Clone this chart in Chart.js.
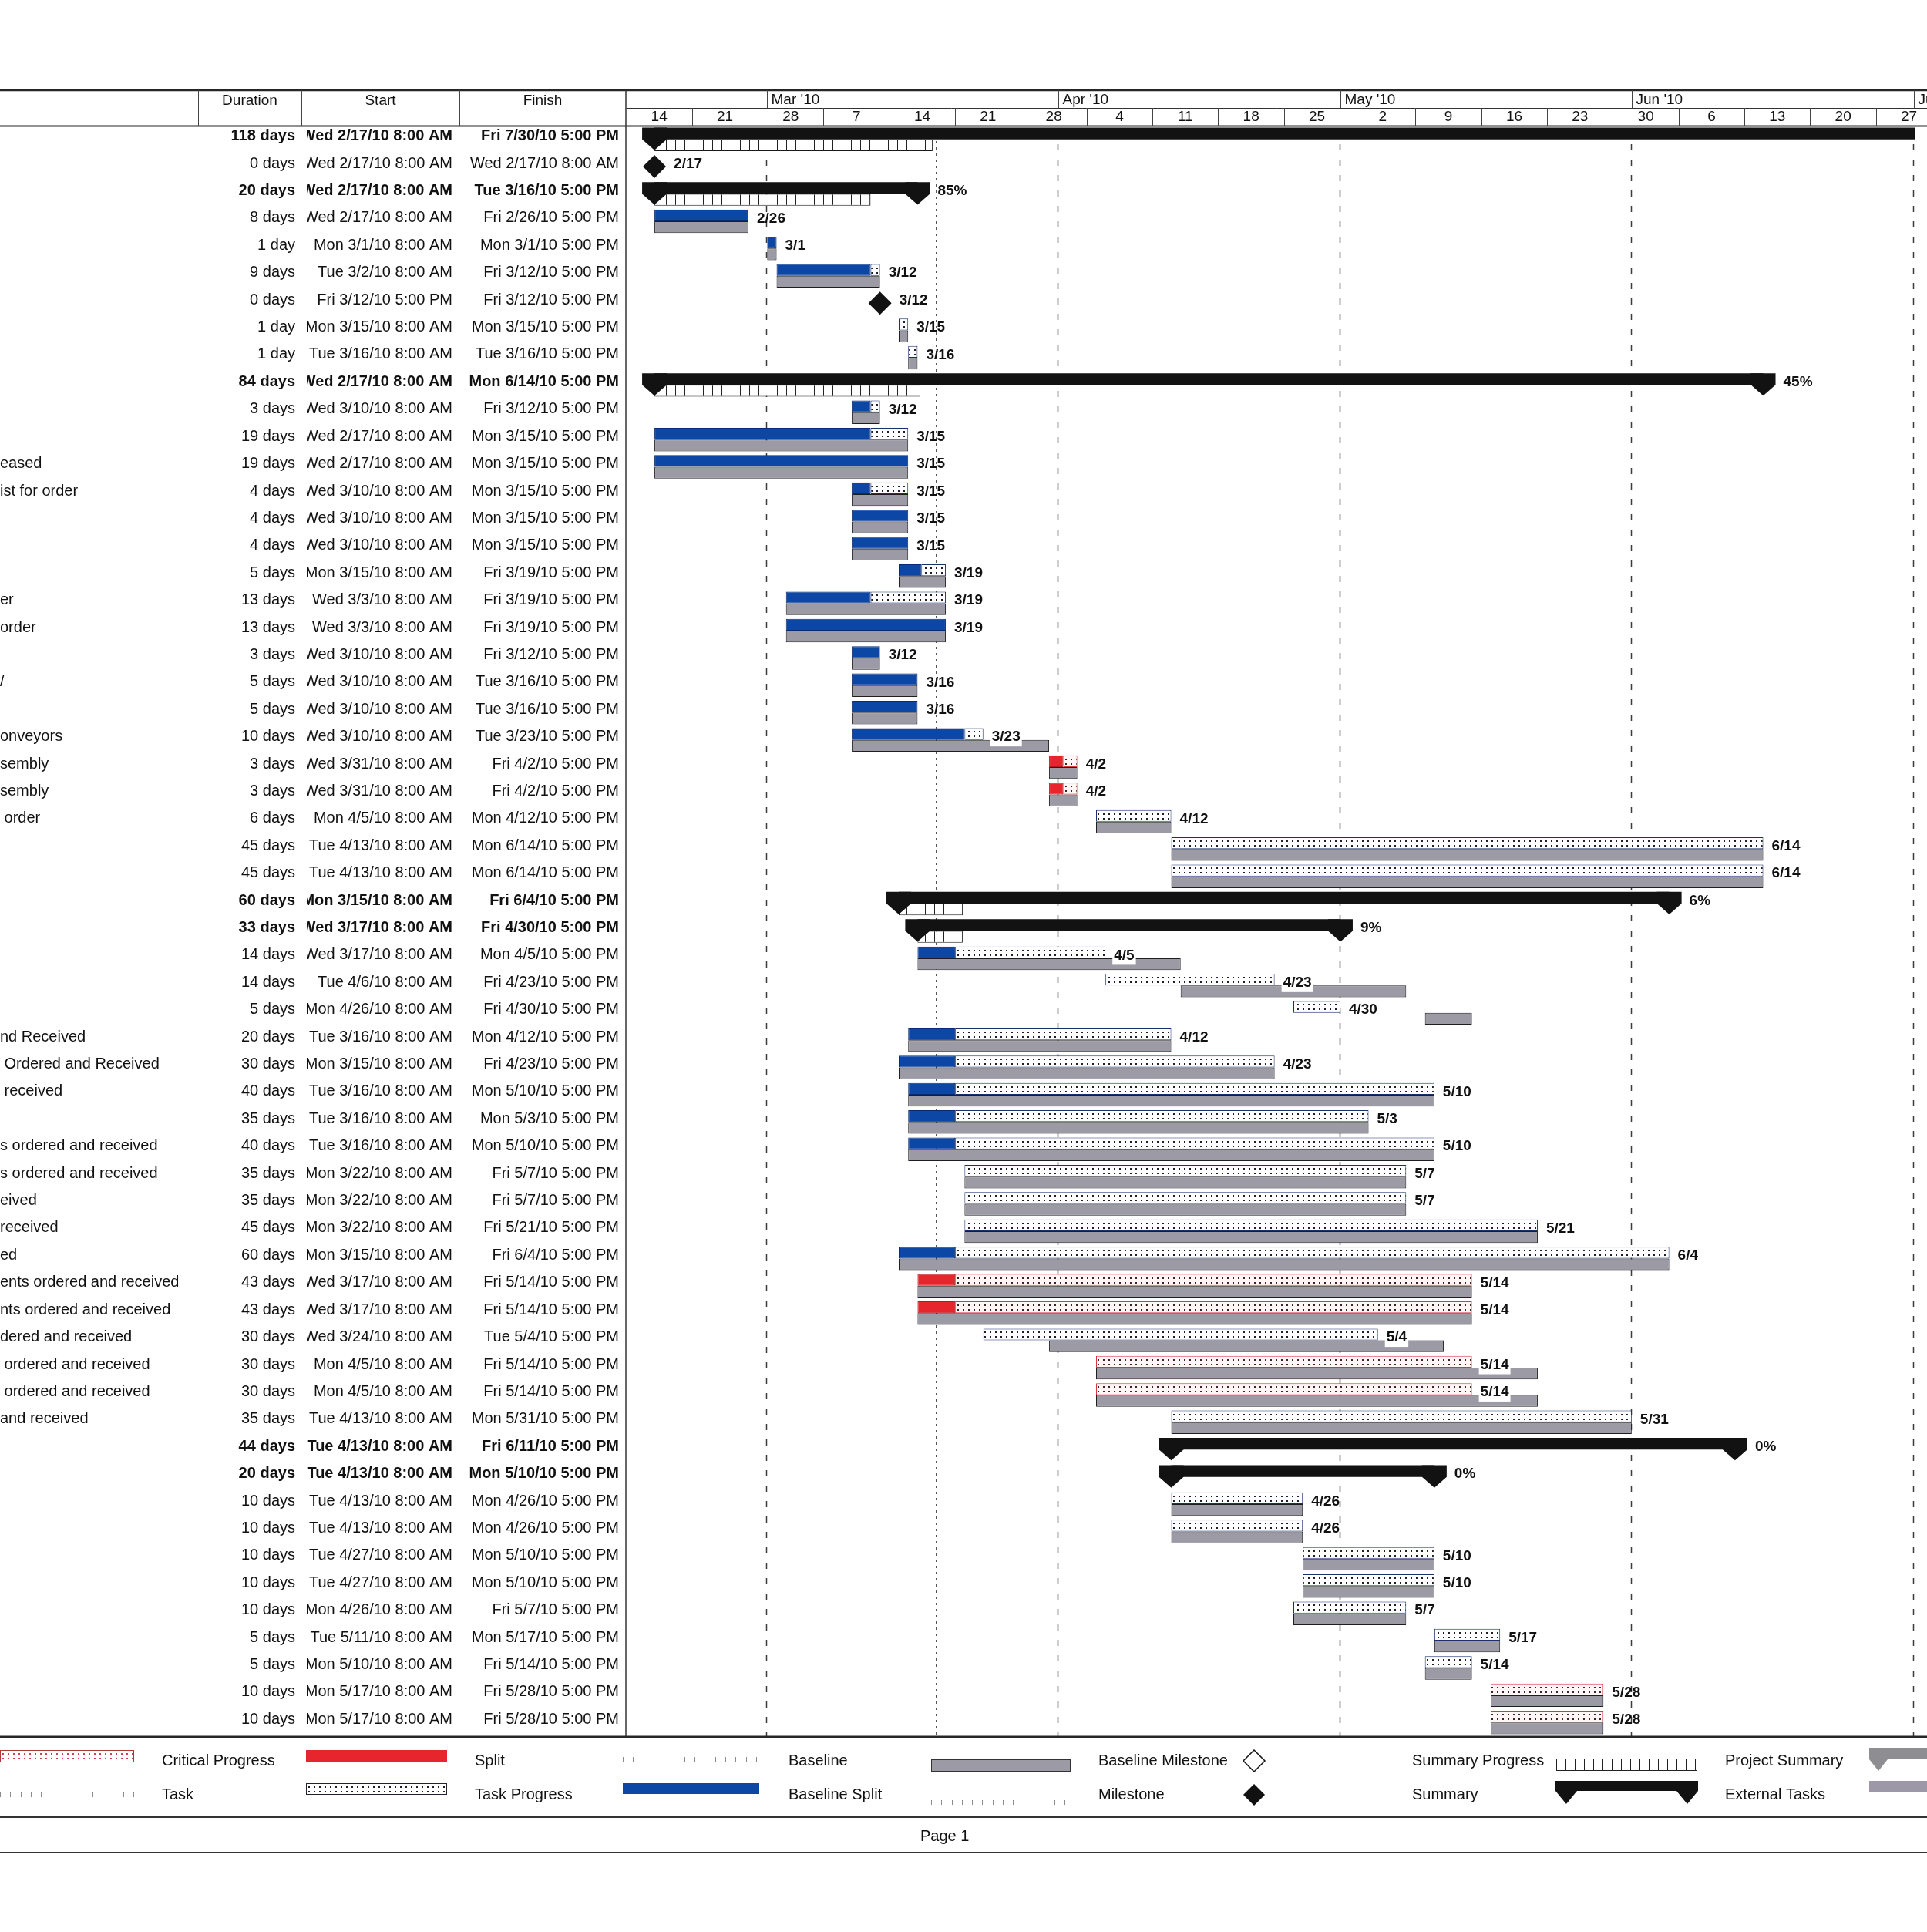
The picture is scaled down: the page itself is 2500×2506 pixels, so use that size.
<!DOCTYPE html>
<html><head><meta charset="utf-8">
<script src="https://cdn.jsdelivr.net/npm/chart.js@4.4.1/dist/chart.umd.min.js"></script>
<style>html,body{margin:0;padding:0;background:#fff;}canvas{display:block;}</style>
</head><body>
<canvas id="c" width="2500" height="2506" style="width:2500px;height:2506px"></canvas>
<script>
// ---------- DATA (time values are days counted from Sun 2/14/2010) ----------
const rowNames = ['','','','','','','','','','',
  '','','eased','ist for order','','','','er','order','',
  '/','','onveyors','sembly','sembly',' order','','','','',
  '','','','nd Received',' Ordered and Received',' received','','s ordered and received','s ordered and received','eived',
  'received','ed','ents ordered and received','nts ordered and received','dered and received',' ordered and received',' ordered and received','and received','','',
  '','','','','','','','',''];
const durations = ['118 days','0 days','20 days','8 days','1 day','9 days','0 days','1 day','1 day','84 days',
  '3 days','19 days','19 days','4 days','4 days','4 days','5 days','13 days','13 days','3 days',
  '5 days','5 days','10 days','3 days','3 days','6 days','45 days','45 days','60 days','33 days',
  '14 days','14 days','5 days','20 days','30 days','40 days','35 days','40 days','35 days','35 days',
  '45 days','60 days','43 days','43 days','30 days','30 days','30 days','35 days','44 days','20 days',
  '10 days','10 days','10 days','10 days','10 days','5 days','5 days','10 days','10 days'];
const startTexts = ['Wed 2/17/10 8:00 AM','Wed 2/17/10 8:00 AM','Wed 2/17/10 8:00 AM','Wed 2/17/10 8:00 AM','Mon 3/1/10 8:00 AM','Tue 3/2/10 8:00 AM','Fri 3/12/10 5:00 PM','Mon 3/15/10 8:00 AM','Tue 3/16/10 8:00 AM','Wed 2/17/10 8:00 AM',
  'Wed 3/10/10 8:00 AM','Wed 2/17/10 8:00 AM','Wed 2/17/10 8:00 AM','Wed 3/10/10 8:00 AM','Wed 3/10/10 8:00 AM','Wed 3/10/10 8:00 AM','Mon 3/15/10 8:00 AM','Wed 3/3/10 8:00 AM','Wed 3/3/10 8:00 AM','Wed 3/10/10 8:00 AM',
  'Wed 3/10/10 8:00 AM','Wed 3/10/10 8:00 AM','Wed 3/10/10 8:00 AM','Wed 3/31/10 8:00 AM','Wed 3/31/10 8:00 AM','Mon 4/5/10 8:00 AM','Tue 4/13/10 8:00 AM','Tue 4/13/10 8:00 AM','Mon 3/15/10 8:00 AM','Wed 3/17/10 8:00 AM',
  'Wed 3/17/10 8:00 AM','Tue 4/6/10 8:00 AM','Mon 4/26/10 8:00 AM','Tue 3/16/10 8:00 AM','Mon 3/15/10 8:00 AM','Tue 3/16/10 8:00 AM','Tue 3/16/10 8:00 AM','Tue 3/16/10 8:00 AM','Mon 3/22/10 8:00 AM','Mon 3/22/10 8:00 AM',
  'Mon 3/22/10 8:00 AM','Mon 3/15/10 8:00 AM','Wed 3/17/10 8:00 AM','Wed 3/17/10 8:00 AM','Wed 3/24/10 8:00 AM','Mon 4/5/10 8:00 AM','Mon 4/5/10 8:00 AM','Tue 4/13/10 8:00 AM','Tue 4/13/10 8:00 AM','Tue 4/13/10 8:00 AM',
  'Tue 4/13/10 8:00 AM','Tue 4/13/10 8:00 AM','Tue 4/27/10 8:00 AM','Tue 4/27/10 8:00 AM','Mon 4/26/10 8:00 AM','Tue 5/11/10 8:00 AM','Mon 5/10/10 8:00 AM','Mon 5/17/10 8:00 AM','Mon 5/17/10 8:00 AM'];
const finishTexts = ['Fri 7/30/10 5:00 PM','Wed 2/17/10 8:00 AM','Tue 3/16/10 5:00 PM','Fri 2/26/10 5:00 PM','Mon 3/1/10 5:00 PM','Fri 3/12/10 5:00 PM','Fri 3/12/10 5:00 PM','Mon 3/15/10 5:00 PM','Tue 3/16/10 5:00 PM','Mon 6/14/10 5:00 PM',
  'Fri 3/12/10 5:00 PM','Mon 3/15/10 5:00 PM','Mon 3/15/10 5:00 PM','Mon 3/15/10 5:00 PM','Mon 3/15/10 5:00 PM','Mon 3/15/10 5:00 PM','Fri 3/19/10 5:00 PM','Fri 3/19/10 5:00 PM','Fri 3/19/10 5:00 PM','Fri 3/12/10 5:00 PM',
  'Tue 3/16/10 5:00 PM','Tue 3/16/10 5:00 PM','Tue 3/23/10 5:00 PM','Fri 4/2/10 5:00 PM','Fri 4/2/10 5:00 PM','Mon 4/12/10 5:00 PM','Mon 6/14/10 5:00 PM','Mon 6/14/10 5:00 PM','Fri 6/4/10 5:00 PM','Fri 4/30/10 5:00 PM',
  'Mon 4/5/10 5:00 PM','Fri 4/23/10 5:00 PM','Fri 4/30/10 5:00 PM','Mon 4/12/10 5:00 PM','Fri 4/23/10 5:00 PM','Mon 5/10/10 5:00 PM','Mon 5/3/10 5:00 PM','Mon 5/10/10 5:00 PM','Fri 5/7/10 5:00 PM','Fri 5/7/10 5:00 PM',
  'Fri 5/21/10 5:00 PM','Fri 6/4/10 5:00 PM','Fri 5/14/10 5:00 PM','Fri 5/14/10 5:00 PM','Tue 5/4/10 5:00 PM','Fri 5/14/10 5:00 PM','Fri 5/14/10 5:00 PM','Mon 5/31/10 5:00 PM','Fri 6/11/10 5:00 PM','Mon 5/10/10 5:00 PM',
  'Mon 4/26/10 5:00 PM','Mon 4/26/10 5:00 PM','Mon 5/10/10 5:00 PM','Mon 5/10/10 5:00 PM','Fri 5/7/10 5:00 PM','Mon 5/17/10 5:00 PM','Fri 5/14/10 5:00 PM','Fri 5/28/10 5:00 PM','Fri 5/28/10 5:00 PM'];
// S = summary, M = milestone, T = task, C = critical task
const rowKinds = ['S','M','S','T','T','T','M','T','T','S',
  'T','T','T','T','T','T','T','T','T','T',
  'T','T','T','C','C','T','T','T','S','S',
  'T','T','T','T','T','T','T','T','T','T',
  'T','T','C','C','T','C','C','T','S','S',
  'T','T','T','T','T','T','T','C','C'];
const taskStart = [3,3,3,3,15,16,27,29,30,3,
  24,3,3,24,24,24,29,17,17,24,
  24,24,24,45,45,50,58,58,29,31,
  31,51,71,30,29,30,30,30,36,36,
  36,29,31,31,38,50,50,58,58,58,
  58,58,72,72,71,86,85,92,92];
const taskEnd = [167,3,31,13,16,27,27,30,31,121,
  27,30,30,30,30,30,34,34,34,27,
  31,31,38,48,48,58,121,121,111,76,
  51,69,76,58,69,86,79,86,83,83,
  97,111,90,90,80,90,90,107,118,86,
  72,72,86,86,83,93,90,104,104];
const progressEnd = [32.6,null,26,13,16,26,null,null,null,31.3,
  26,26,30,26,30,30,31.4,26,34,27,
  31,31,36,46.5,46.5,null,null,null,35.8,35.8,
  35,null,null,35,35,35,35,35,null,null,
  null,35,35,35,null,null,null,null,null,null,
  null,null,null,null,null,null,null,null,null];
const baseStart = [null,null,null,3,15,16,null,29,30,null,
  24,3,3,24,24,24,29,17,17,24,
  24,24,24,45,45,50,58,58,null,null,
  31,59,85,30,29,30,30,30,36,36,
  36,29,31,31,45,50,50,58,null,null,
  58,58,72,72,71,86,85,92,92];
const baseEnd = [null,null,null,13,16,27,null,30,31,null,
  27,30,30,30,30,30,34,34,34,27,
  31,31,45,48,48,58,121,121,null,null,
  59,83,90,58,69,86,79,86,83,83,
  97,111,90,90,87,97,97,107,null,null,
  72,72,86,86,83,93,90,104,104];
const barLabels = ['','2/17','85%','2/26','3/1','3/12','3/12','3/15','3/16','45%',
  '3/12','3/15','3/15','3/15','3/15','3/15','3/19','3/19','3/19','3/12',
  '3/16','3/16','3/23','4/2','4/2','4/12','6/14','6/14','6%','9%',
  '4/5','4/23','4/30','4/12','4/23','5/10','5/3','5/10','5/7','5/7',
  '5/21','6/4','5/14','5/14','5/4','5/14','5/14','5/31','0%','0%',
  '4/26','4/26','5/10','5/10','5/7','5/17','5/14','5/28','5/28'];
const weekLabels = ['14','21','28','7','14','21','28','4','11','18','25','2','9','16','23','30','6','13','20','27'];
const monthLabels = ["Mar '10","Apr '10","May '10","Jun '10","Jul '10"];
const monthStartDays = [15,46,76,107,137];
const statusDay = 33;
const axisMaxDay = 137.2;

// ---------- STYLE ----------
const FONT = '"Liberation Sans", Arial, sans-serif';
const BLUE = '#0c47a6', RED = '#e6262c', GRAY = '#9c9aa5', BLACK = '#121212';
const CAT = 0.86;

function makeTile(w, h, draw){ const c=document.createElement('canvas'); c.width=w; c.height=h; const g=c.getContext('2d'); draw(g); return c; }
const dotTile = makeTile(7,15,g=>{g.fillStyle='#fff';g.fillRect(0,0,7,15);g.fillStyle='#1e1e2a';g.fillRect(3,4,2,2);g.fillRect(3,10,2,2);});
const critDotTile = makeTile(7,15,g=>{g.fillStyle='#fff6f6';g.fillRect(0,0,7,15);g.fillStyle='#3a2228';g.fillRect(3,4,2,2);g.fillRect(3,10,2,2);});
const critLegendTile = makeTile(7,15,g=>{g.fillStyle='#fff';g.fillRect(0,0,7,15);g.fillStyle='#d04050';g.fillRect(3,4,2,2);g.fillRect(3,10,2,2);});
const hatchTile = makeTile(12,15,g=>{g.fillStyle='#fff';g.fillRect(0,0,12,15);g.fillStyle='#222';g.fillRect(0,0,1,15);});

function slotPattern(c, tile, slot){
  if (c.type !== 'data') return '#fff';
  const ys = c.chart.scales.y;
  const rowH = ys.getPixelForValue(1) - ys.getPixelForValue(0);
  const h = rowH * CAT / 2;
  const yc = ys.getPixelForValue(c.dataIndex);
  const top = slot === 'top' ? yc - h : yc;
  const p = c.chart.ctx.createPattern(tile, 'repeat');
  p.setTransform(new DOMMatrix().translate(0, Math.round(top)));
  return p;
}

// ---------- DERIVED DATASETS ----------
const n = rowKinds.length;
const summaryData = rowKinds.map((k,i)=> k==='S' ? [taskStart[i], taskEnd[i]] : null);
const summaryProg = rowKinds.map((k,i)=> k==='S' && progressEnd[i]!=null ? [taskStart[i], progressEnd[i]] : null);
const doneData = rowKinds.map((k,i)=> k==='T' && progressEnd[i]!=null ? [taskStart[i], progressEnd[i]] : null);
const remainData = rowKinds.map((k,i)=> k==='T' && (progressEnd[i]==null || progressEnd[i]<taskEnd[i]) ? [progressEnd[i]==null?taskStart[i]:progressEnd[i], taskEnd[i]] : null);
const critDone = rowKinds.map((k,i)=> k==='C' && progressEnd[i]!=null ? [taskStart[i], progressEnd[i]] : null);
const critRemain = rowKinds.map((k,i)=> k==='C' && (progressEnd[i]==null || progressEnd[i]<taskEnd[i]) ? [progressEnd[i]==null?taskStart[i]:progressEnd[i], taskEnd[i]] : null);
const baselineData = rowKinds.map((k,i)=> baseStart[i]!=null ? [baseStart[i], baseEnd[i]] : null);
const milestoneData = rowKinds.map((k,i)=> k==='M' ? taskStart[i] : null);

const barCommon = {barPercentage:1, categoryPercentage:CAT, borderSkipped:false, order:1};

// ---------- PLUGINS ----------
function capPath(g, x, top, bot, half, depth){
  g.beginPath(); g.moveTo(x-half, top); g.lineTo(x+half, top); g.lineTo(x+half, bot);
  g.lineTo(x, bot+depth); g.lineTo(x-half, bot); g.closePath(); g.fill();
}
function hline(g,x0,x1,y,w,col){g.strokeStyle=col||'#222';g.lineWidth=w;g.beginPath();g.moveTo(x0,y);g.lineTo(x1,y);g.stroke();}
function vline(g,x,y0,y1,w,col){g.strokeStyle=col||'#222';g.lineWidth=w||1;g.beginPath();g.moveTo(x,y0);g.lineTo(x,y1);g.stroke();}

const gridPlugin = {
  id:'ganttGrid',
  beforeDatasetsDraw(chart){
    const g=chart.ctx, xs=chart.scales.x, a=chart.chartArea;
    g.save();
    g.strokeStyle='#3c3c3c'; g.lineWidth=1.5; g.setLineDash([8,12]);
    monthStartDays.forEach(d=>{const x=Math.round(xs.getPixelForValue(d))-0.5; g.beginPath(); g.moveTo(x,a.top+4); g.lineTo(x,a.bottom); g.stroke();});
    g.setLineDash([3,5]); g.lineWidth=2; g.strokeStyle='#555';
    const sx=Math.round(xs.getPixelForValue(statusDay));
    g.beginPath(); g.moveTo(sx,a.top+4); g.lineTo(sx,a.bottom); g.stroke();
    g.restore();
  }
};

const marksPlugin = {
  id:'ganttMarks',
  afterDatasetsDraw(chart){
    const g=chart.ctx, xs=chart.scales.x, ys=chart.scales.y;
    const sumMeta = chart.getDatasetMeta(0);
    g.save();
    g.fillStyle = BLACK;
    for (let i=0;i<n;i++){
      if (rowKinds[i]!=='S') continue;
      const el = sumMeta.data[i];
      const top = el.y - el.height/2, bot = el.y + el.height/2;
      capPath(g, xs.getPixelForValue(taskStart[i]), top, bot, 16, 14);
      const xe = xs.getPixelForValue(taskEnd[i]);
      if (xe < chart.width + 20) capPath(g, xe, top, bot, 16, 14);
    }
    g.font = 'bold 19px ' + FONT; g.textBaseline='middle'; g.textAlign='left';
    for (let i=0;i<n;i++){
      const t = barLabels[i]; if (!t) continue;
      const yc = ys.getPixelForValue(i) - 3.5;
      let lx;
      if (rowKinds[i]==='S') lx = xs.getPixelForValue(taskEnd[i]) + 26;
      else if (rowKinds[i]==='M') lx = xs.getPixelForValue(taskStart[i]) + 25;
      else lx = xs.getPixelForValue(taskEnd[i]) + 11;
      const w = g.measureText(t).width;
      if (baseStart[i]!=null){
        const b0=xs.getPixelForValue(baseStart[i]), b1=xs.getPixelForValue(baseEnd[i]);
        if (b1 > lx-2 && b0 < lx+w+2){ g.fillStyle='#fff'; g.fillRect(lx-2, yc-10, w+4, 22); }
      }
      g.fillStyle='#111'; g.fillText(t, lx, yc);
    }
    g.restore();
  }
};

const framePlugin = {
  id:'ganttFrame',
  afterDraw(chart){
    const g=chart.ctx, xs=chart.scales.x, ys=chart.scales.y, a=chart.chartArea;
    const W = chart.width;
    g.save();
    hline(g,0,W,117,2.5,'#262626');
    hline(g,a.left,W,140.5,1,'#333');
    hline(g,0,W,163.5,2,'#262626');
    [257.5,391.5,596.5].forEach(x=>vline(g,x,117,163,1,'#444'));
    vline(g,a.left-0.5,117,a.bottom,1.5,'#333');
    g.fillStyle='#111'; g.textBaseline='middle';
    g.font='19px '+FONT; g.textAlign='center';
    g.fillText('Duration',324,131); g.fillText('Start',493.5,131); g.fillText('Finish',704,131);
    g.textAlign='left';
    monthStartDays.forEach((d,k)=>{const x=Math.round(xs.getPixelForValue(d))+0.5; vline(g,x,117,140,1,'#444'); g.fillText(monthLabels[k], x+5, 130);});
    g.textAlign='center';
    weekLabels.forEach((t,k)=>{const d=k*7; const x=Math.round(xs.getPixelForValue(d))+0.5; if(k>0) vline(g,x,140,163,1,'#444'); g.fillText(t, xs.getPixelForValue(d+3.5), 152);});
    for (let i=0;i<n;i++){
      const y = ys.getPixelForValue(i) - 4;
      const bold = rowKinds[i]==='S';
      g.font=(bold?'bold ':'')+'20px '+FONT; g.fillStyle='#111';
      g.textAlign='right';
      g.fillText(durations[i], 383, y);
      g.save(); g.beginPath(); g.rect(398,a.top,198,a.bottom-a.top); g.clip();
      g.fillText(startTexts[i], 587, y); g.restore();
      g.fillText(finishTexts[i], 803, y);
      if (rowNames[i]){ g.font='20px '+FONT; g.textAlign='left'; g.fillText(rowNames[i], 0, y); }
    }
    hline(g,0,W,a.bottom+1,3,'#262626');
    hline(g,0,W,2357,2,'#333');
    hline(g,0,W,2403,2,'#333');
    drawLegend(g);
    g.restore();
  }
};

function ticks(g,x0,x1,y){ g.strokeStyle='#8a8a8a'; g.lineWidth=1; for(let x=x0;x<=x1;x+=13.3){ g.beginPath(); g.moveTo(Math.round(x)+0.5,y-3); g.lineTo(Math.round(x)+0.5,y+3); g.stroke(); } }
function patRect(g,tile,x,y,w,h,border){ const p=g.createPattern(tile,'repeat'); p.setTransform(new DOMMatrix().translate(x,y)); g.fillStyle=p; g.fillRect(x,y,w,h); g.strokeStyle=border; g.lineWidth=1; g.strokeRect(x+0.5,y+0.5,w-1,h-1); }
function diamond(g,x,y,r,fill){ g.beginPath(); g.moveTo(x-r,y); g.lineTo(x,y-r); g.lineTo(x+r,y); g.lineTo(x,y+r); g.closePath(); if(fill){g.fillStyle='#111';g.fill();} else {g.strokeStyle='#111';g.lineWidth=1.5;g.stroke();} }
function drawLegend(g){
  const r1=2284, r2=2328;
  const T=(s,x,y)=>{g.fillStyle='#111';g.font='20px '+FONT;g.textAlign='left';g.textBaseline='middle';g.fillText(s,x,y);};
  patRect(g,critLegendTile,0,2270,174,16,'#b03838');
  T('Critical Progress',210,r1);
  g.fillStyle=RED; g.fillRect(397,2270,183,16);
  T('Split',616,r1);
  ticks(g,808,981,2282);
  T('Baseline',1023,r1);
  g.fillStyle=GRAY; g.fillRect(1208,2282,181,16); g.strokeStyle='#333'; g.lineWidth=1; g.strokeRect(1208.5,2282.5,180,15);
  T('Baseline Milestone',1425,r1);
  diamond(g,1627,2284,14,false);
  T('Summary Progress',1832,r1);
  patRect(g,hatchTile,2019,2281,183,16,'#222');
  T('Project Summary',2238,r1);
  g.fillStyle='#8e8e92'; g.fillRect(2425,2267,100,15); capPath(g,2437,2267,2282,12,15);
  ticks(g,0,174,2328);
  T('Task',210,r2);
  patRect(g,dotTile,397,2313,183,15,'#223');
  T('Task Progress',616,r2);
  g.fillStyle=BLUE; g.fillRect(808,2313,177,14);
  T('Baseline Split',1023,r2);
  ticks(g,1208,1389,2338);
  T('Milestone',1425,r2);
  diamond(g,1627,2328,14,true);
  T('Summary',1832,r2);
  g.fillStyle=BLACK; g.fillRect(2019,2310,183,13); capPath(g,2032,2310,2323,14,17); capPath(g,2189,2310,2323,14,17);
  T('External Tasks',2238,r2);
  g.fillStyle='#9c98a8'; g.fillRect(2425,2310,100,15);
  T('Page 1',1194,2382);
}

// ---------- CHART ----------
new Chart(document.getElementById('c'), {
  type:'bar',
  data:{
    labels: rowNames,
    datasets:[
      Object.assign({label:'Summary', data:summaryData, stack:'top', backgroundColor:BLACK, borderWidth:0}, barCommon),
      Object.assign({label:'Task complete', data:doneData, stack:'top', backgroundColor:BLUE, borderColor:'#0a2a70', borderWidth:1}, barCommon),
      Object.assign({label:'Task remaining', data:remainData, stack:'top', backgroundColor:c=>slotPattern(c,dotTile,'top'), borderColor:'#1a2f70', borderWidth:1}, barCommon),
      Object.assign({label:'Critical complete', data:critDone, stack:'top', backgroundColor:RED, borderColor:'#b41a20', borderWidth:1}, barCommon),
      Object.assign({label:'Critical remaining', data:critRemain, stack:'top', backgroundColor:c=>slotPattern(c,critDotTile,'top'), borderColor:'#d8353d', borderWidth:1}, barCommon),
      Object.assign({label:'Baseline', data:baselineData, stack:'bottom', backgroundColor:GRAY, borderColor:'#1e1e1e', borderWidth:1}, barCommon),
      Object.assign({label:'Summary progress', data:summaryProg, stack:'bottom', backgroundColor:c=>slotPattern(c,hatchTile,'bottom'), borderColor:'#1a1a1a', borderWidth:1}, barCommon),
      {type:'line', label:'Milestone', data:milestoneData, indexAxis:'y', showLine:false, pointStyle:'rectRot', pointRadius:15, pointBackgroundColor:BLACK, pointBorderColor:BLACK, pointBorderWidth:0, order:0}
    ]
  },
  options:{
    indexAxis:'y', responsive:false, devicePixelRatio:1, animation:false, events:[],
    layout:{padding:{left:812.5, right:0, top:163, bottom:254}},
    plugins:{legend:{display:false}, tooltip:{enabled:false}},
    scales:{
      x:{type:'linear', min:0, max:axisMaxDay, display:false, stacked:false},
      y:{type:'category', display:false, offset:true}
    }
  },
  plugins:[gridPlugin, marksPlugin, framePlugin]
});
</script>
</body></html>
